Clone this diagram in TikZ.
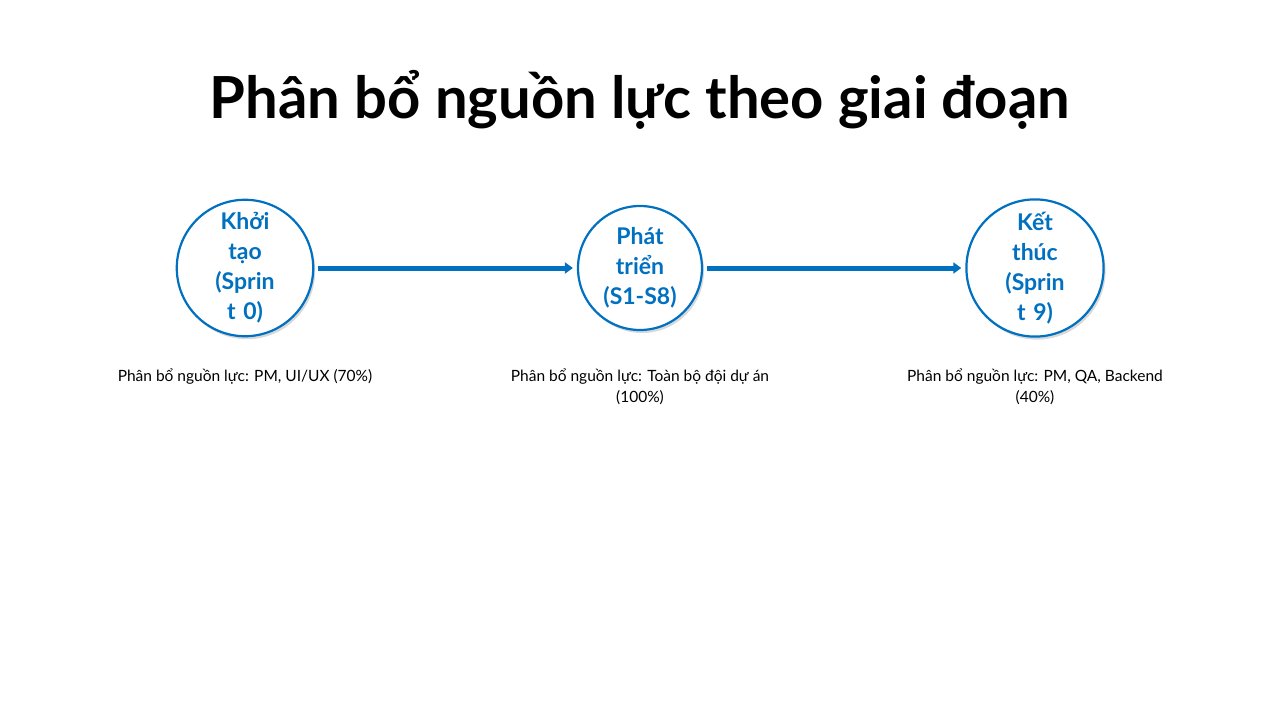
\documentclass[tikz,border=0pt]{standalone}
\usepackage{fontspec}
\setmainfont{Lato}
\usetikzlibrary{shadows,arrows.meta}
\definecolor{phaseblue}{HTML}{0070C0}
\begin{document}
\begin{tikzpicture}[x=1pt,y=-1pt,
  phase/.style={draw=phaseblue, line width=2.2pt, circle, fill=white, minimum size=124pt, inner sep=0pt,
    text width=80pt, align=center, text=phaseblue, font=\fontsize{23}{30}\selectfont\bfseries,
    drop shadow={opacity=0.3, shadow xshift=2pt, shadow yshift=-3pt}},
  note/.style={align=center, font=\fontsize{15.5}{21}\selectfont},
  flow/.style={-{Triangle[length=8pt,width=11pt]}, line width=5pt, draw=phaseblue}]
\useasboundingbox (0,0) rectangle (1280,720);
% Title
\node[font=\fontsize{58}{64}\selectfont\bfseries] (title) at (640,100) {Phân bổ nguồn lực theo giai đoạn};

% Phases
\node[phase] (init) at (245,268) {Khởi tạo (Sprin t 0)};
\node[phase] (dev) at (640,268) {Phát triển (S1-S8)};
\node[phase] (close) at (1035,268) {Kết thúc (Sprin t 9)};

% Arrows
\draw[flow] (init.east) ++(4,0) coordinate (a1) -- ([xshift=-4pt]dev.west);
\draw[flow] (dev.east) ++(4,0) coordinate (a2) -- ([xshift=-4pt]close.west);

% Notes
\node[note, anchor=north] (initnote) at (245,365) {Phân bổ nguồn lực: PM, UI/UX (70\%)};
\node[note, anchor=north] (devnote) at (640,365) {Phân bổ nguồn lực: Toàn bộ đội dự án\\(100\%)};
\node[note, anchor=north] (closenote) at (1035,365) {Phân bổ nguồn lực: PM, QA, Backend\\(40\%)};
\end{tikzpicture}
\end{document}
